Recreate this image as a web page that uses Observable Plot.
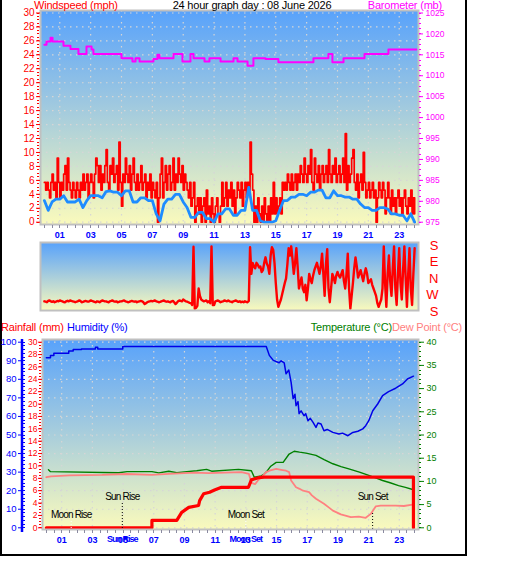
<!DOCTYPE html>
<html><head><meta charset="utf-8">
<script src="https://cdn.jsdelivr.net/npm/d3@7"></script>
<script src="https://cdn.jsdelivr.net/npm/@observablehq/plot@0.6"></script>
<style>
body{margin:0;background:#fff;}
#chart{position:relative;width:529px;height:563px;overflow:hidden;background:#fff;font-family:"Liberation Sans",Arial,sans-serif}
.box{position:absolute;left:0;top:0;width:467px;height:556px;box-sizing:border-box;border:2px solid #000;border-top:none}
.t{position:absolute;font-size:11px;line-height:12px;letter-spacing:-0.2px;white-space:nowrap}
.ann text{letter-spacing:-0.8px}
.evl text{letter-spacing:-1px}
</style></head>
<body><div id="chart">
<div class="box"></div>
</div>
<script>
// ---------- data ----------
const hourTicks = [1,3,5,7,9,11,13,15,17,19,21,23];
// wind gust (mph), every 5 min from 00:00
const gust = [
 5.7,4.6,5.7,4.6,3.5,5.7,6.9,4.6,5.7,3.5,9.2,5.7,
 3.5,5.7,4.6,6.9,8.1,4.6,9.2,5.7,4.6,3.5,5.7,4.6,
 3.5,5.7,4.6,3.5,5.7,4.6,6.9,4.6,5.7,6.9,3.5,5.7,
 6.9,5.7,3.5,6.9,9.2,8.1,5.7,8.1,4.6,6.9,5.7,8.1,
 10.4,5.7,4.6,8.1,6.9,9.2,5.7,6.9,8.1,4.6,11.5,5.7,
 2.3,6.9,5.7,9.2,6.9,5.7,8.1,4.6,6.9,9.2,5.7,4.6,
 6.9,4.6,5.7,8.1,4.6,5.7,6.9,3.5,5.7,4.6,6.9,3.5,
 5.7,4.6,3.5,5.7,0.0,3.5,6.9,9.2,3.5,5.7,8.1,4.6,
 6.9,8.1,4.6,5.7,9.2,4.6,6.9,5.7,9.2,6.9,5.7,8.1,
 4.6,6.9,5.7,4.6,3.5,5.7,2.3,3.5,5.7,0.0,2.3,3.5,
 1.2,3.5,0.0,2.3,3.5,0.0,4.6,1.2,2.3,0.0,3.5,1.2,
 0.0,2.3,3.5,1.2,0.0,2.3,5.7,2.3,3.5,5.7,2.3,4.6,
 3.5,5.7,2.3,4.6,1.2,3.5,5.7,4.6,3.5,5.7,2.3,4.6,
 5.7,3.5,5.7,4.6,11.5,6.9,4.6,0.0,2.3,0.0,3.5,1.2,
 0.0,2.3,0.0,3.5,1.2,0.0,2.3,0.0,3.5,1.2,5.7,1.2,
 3.5,1.2,2.3,3.5,1.2,5.7,4.6,5.7,4.6,6.9,5.7,4.6,
 6.9,4.6,5.7,6.9,4.6,6.9,5.7,8.1,6.9,5.7,9.2,6.9,
 5.7,8.1,6.9,10.4,5.7,4.6,9.2,6.9,5.7,8.1,4.6,6.9,
 8.1,5.7,6.9,8.1,5.7,10.4,6.9,5.7,8.1,6.9,9.2,5.7,
 6.9,8.1,5.7,6.9,9.2,5.7,12.7,4.6,8.1,5.7,6.9,9.2,
 10.4,5.7,4.6,6.9,3.5,5.7,6.9,4.6,10.0,5.7,3.5,4.6,
 5.7,3.5,4.6,5.7,3.5,4.6,0.0,3.5,5.7,4.6,3.5,5.7,
 4.6,1.2,3.5,5.7,3.5,1.2,4.6,2.3,3.5,1.2,3.5,4.6,
 2.3,3.5,1.2,3.5,4.6,2.3,1.2,3.5,2.3,4.6,1.2,3.5,
 1.2];
// average wind speed (mph), every 15 min from 00:00
const avgWind = [
 3.1,1.7,2.9,3.3, 3.3,3.8,2.9,2.9, 2.9,3.3,2.1,3.1, 3.8,3.8,3.8,3.5, 4.4,4.5,4.3,4.3, 3.8,4.5,4.5,2.9,
 2.9,3.5,3.5,3.1, 3.1,1.2,0.2,2.6, 3.3,3.3,4.0,4.0, 2.9,2.1,0.7,0.7, 1.4,1.4,0.5,0.5, 0.0,1.2,1.2,1.9,
 1.9,1.0,1.0,1.7, 1.7,5.0,1.7,1.7, 0.2,0.0,0.0,0.0, 0.2,1.7,3.1,3.1, 3.6,3.6,4.0,4.0, 3.8,4.3,4.3,4.6,
 4.6,3.5,3.5,4.5, 3.8,3.8,3.6,3.6, 3.3,3.3,2.6,2.1, 2.1,1.7,1.7,2.1, 2.1,1.9,1.2,1.2, 1.0,1.0,0.2,1.2, 0.0];
// barometer (mb), change times (h) and values
const baroTimes = [0,0.14,0.4,0.53,1.24,1.69,2.21,2.73,3.06,3.18,5.0,5.71,5.91,6.17,7.07,7.33,7.46,8.37,8.95,9.47,9.67,10.38,10.7,11.42,12.26,12.52,13.17,13.55,14.33,15.17,17.44,18.41,18.67,19.39,20.75,22.3,24.12];
const baroValues = [1017.4,1018.2,1019.1,1018.2,1017.2,1016.4,1015.2,1017.0,1016.3,1015.2,1014.2,1013.4,1014.2,1013.4,1014.0,1015.0,1014.2,1015.2,1013.4,1015.2,1014.2,1013.4,1014.2,1013.4,1014.2,1013.4,1012.4,1014.2,1014.0,1013.2,1014.2,1015.2,1013.2,1014.2,1015.2,1016.3,1016.3];
// wind direction, every 5 min (0 = S bottom, 90 = W, 180 = N, 270 = E, 360 = S top)
const windDir = [
 50,48,45,52,55,50,47,50,45,48,52,50,
 55,52,50,46,45,50,53,50,55,52,50,48,
 45,48,50,55,52,45,47,50,52,50,48,50,
 55,52,50,47,45,50,48,45,50,55,52,50,
 50,47,45,50,52,55,50,48,50,45,47,50,
 50,53,55,50,48,45,47,50,52,50,48,50,
 45,48,50,52,50,45,35,40,45,48,50,52,
 50,52,55,50,48,45,47,50,52,55,50,48,
 50,47,45,50,52,45,35,42,50,55,52,50,
 60,55,50,48,45,42,40,30,348,10,15,25,
 120,80,60,55,50,52,55,45,50,40,350,30,
 30,50,52,55,50,45,48,50,55,52,50,55,
 50,48,45,50,52,55,50,47,50,45,48,45,
 50,47,45,52,345,200,260,240,230,260,250,235,
 240,210,220,260,290,256,240,200,300,345,330,260,
 150,60,20,40,60,90,120,150,175,250,340,300,
 350,280,200,260,340,240,120,150,180,120,100,140,
 55,120,200,170,150,190,220,240,260,230,200,240,
 310,200,80,250,335,120,45,120,200,180,150,190,
 210,190,180,200,220,160,120,200,310,120,10,80,
 150,230,290,240,180,200,220,190,160,200,230,200,
 150,160,170,140,120,100,80,40,20,40,60,120,
 350,150,20,200,300,160,80,230,350,120,30,200,
 340,150,60,220,350,180,20,200,340,120,30,200,
 340];
const dirTicks = [360,270,180,90,0];
const dirLabels = ["S","E","N","W","S"];
// rainfall (mm)
const rainTimes = [0,6.88,6.88,8.5,8.82,9.28,9.92,9.99,10.25,10.64,10.96,11.42,13.17,13.36,13.81,14.2,23.92,23.92];
const rainValues = [0,0,1.2,1.2,2.5,3.3,3.6,4.4,5.5,5.75,6.1,6.55,6.55,7.75,8.1,8.2,8.2,0];
// humidity (%)
const humTimes = [0,0.27,0.27,0.49,0.49,1.46,1.46,1.75,1.75,2.29,2.29,3.2,3.2,3.35,3.35,4.98,4.98,14.33,14.53,14.79,15.17,15.3,15.5,15.62,15.8,15.95,16.08,16.2,16.27,16.4,16.47,16.6,16.79,16.9,17.05,17.2,17.38,17.57,17.7,17.9,18.09,18.3,18.67,19.06,19.3,19.65,19.97,20.3,20.62,20.81,21.01,21.27,21.59,21.91,22.3,22.76,23.21,23.53,23.92];
const humValues = [91.6,91.6,92.8,92.8,94.1,94.1,95.2,95.2,96.1,96.1,96.4,96.4,97.3,97.3,96.4,96.4,97.7,97.7,92.9,90.2,88.9,90,88.9,83,85,78.4,69.6,72,65.8,68,61.5,63,60.4,61.5,57.7,59,56.8,54.1,56.5,55.9,52.3,53,51.4,50.5,51,49.6,51.4,52,53.3,55,57.7,63.1,66.7,71.2,73.4,75.2,77.5,80.2,81.7];
// temperature (°C)
const tempTimes = [0.14,0.27,4.72,5.26,6.88,7.33,7.98,8.5,9.8,10.44,10.77,12.52,13.36,13.55,14.0,14.2,14.33,14.6,14.98,15.43,15.82,16.15,16.5,16.92,17.57,18.1,18.67,19.2,19.71,20.4,21.01,21.5,21.91,22.4,22.95,23.4,23.92];
const tempValues = [12.5,12.1,11.85,12.1,12.1,11.85,12.2,11.9,12.3,12.6,12.2,12.6,12.3,10.9,11.2,11.6,12.0,13.2,14.1,14.1,15.9,16.5,16.3,16.1,15.6,14.7,13.8,13.2,12.7,12.0,11.3,10.7,10.2,9.7,9.1,8.7,8.2];
// dew point (°C)
const dewTimes = [0.0,0.3,1.5,3.64,5.26,6.88,7.98,9.67,10.57,12.71,13.2,13.36,13.6,13.81,14.1,14.33,14.53,14.98,15.3,15.62,15.82,15.95,16.27,16.5,16.73,17.12,17.3,17.57,18.09,18.4,18.67,19.19,19.84,20.36,20.81,21.14,21.46,21.78,22.76,23.3,23.86];
const dewValues = [10.9,11.1,11.3,11.4,11.6,11.4,11.6,11.9,11.8,12.0,11.6,9.7,9.4,10.3,11.2,12.0,12.3,12.7,12.5,12.3,12.0,10.2,8.75,8.4,8.0,7.7,7.0,6.25,5.2,4.4,3.7,2.9,2.3,2.4,2.15,3.0,4.6,4.8,4.8,4.7,5.0];
// sun / moon events (h)
const eventTimes = {sunRise: 4.95, sunSet: 21.26, moonRise: 1.62, moonSet: 13.0};

// ---------- helpers ----------
const FONT = '"Liberation Sans",Arial,sans-serif';
const RED="#ff0000", MAG="#ff00ff", BLUE="#0000ff", WBLUE="#1e8cff", GREEN="#008000", PINK="#ff8080", GRAY="#c0c0c0";
const W = 466;
const xDom = [-0.25, 24.25];
const st = {background:"transparent", fontFamily: FONT, overflow:"visible"};
const gridOpt = {stroke:"#d6d6d6", strokeOpacity:1, strokeDasharray:"1.5,4.5", strokeWidth:1.2};
const series = (ts, vs) => ts.map((t,i) => ({t, v: vs[i]}));
const regular = (vs, step) => vs.map((v,i) => ({t: i*step, v}));

function gradient(id){
  return () => {
    const defs = d3.create("svg:defs");
    const g = defs.append("linearGradient").attr("id", id).attr("x1",0).attr("y1",0).attr("x2",0).attr("y2",1);
    g.append("stop").attr("offset","0").attr("stop-color","#58a2fb");
    g.append("stop").attr("offset","1").attr("stop-color","#fafabc");
    return defs.node();
  };
}
function minorY(vals, fx, len, color){
  return (index, scales, values, dims) => {
    const g = d3.create("svg:g").attr("stroke", color).attr("stroke-width", 1);
    const x0 = fx(dims);
    for (const v of vals){ const y = Math.round(scales.y(v)) + 0.5; g.append("line").attr("x1", x0).attr("x2", x0 + len).attr("y1", y).attr("y2", y); }
    return g.node();
  };
}
function minorX(vals, len, color){
  return (index, scales, values, dims) => {
    const g = d3.create("svg:g").attr("stroke", color).attr("stroke-width", 1);
    const y0 = dims.height - dims.marginBottom + 1;
    for (const v of vals){ const x = Math.round(scales.x(v)) + 0.5; g.append("line").attr("x1", x).attr("x2", x).attr("y1", y0).attr("y2", y0 + len); }
    return g.node();
  };
}
function vLine(fx, color, w){
  return (index, scales, values, dims) => d3.create("svg:line")
    .attr("x1", fx(dims)).attr("x2", fx(dims)).attr("y1", dims.marginTop).attr("y2", dims.height - dims.marginBottom + 3)
    .attr("stroke", color).attr("stroke-width", w).node();
}
const halfHours = d3.range(0, 24.01, 0.5);

// ---------- panel 1 : wind speed + barometer ----------
const baroY = b => (b - 975) * 0.6;
const p1 = Plot.plot({
  width: W, height: 245, marginTop: 10, marginBottom: 21, marginLeft: 40, marginRight: 48,
  style: st,
  x: {domain: xDom},
  y: {domain: [0, 30], insetTop: 2.5, insetBottom: 2.3},
  marks: [
    gradient("bg1"),
    Plot.frame({fill: "url(#bg1)"}),
    Plot.gridX(hourTicks, gridOpt),
    Plot.gridY(d3.range(0, 31, 2), gridOpt),
    Plot.line(series(baroTimes, baroValues), {x: "t", y: d => baroY(d.v), curve: "step-after", stroke: MAG, strokeWidth: 2}),
    Plot.line(regular(gust, 1/12), {x: "t", y: "v", curve: "step-after", stroke: RED, strokeWidth: 1.7}),
    Plot.line(regular(avgWind, 0.25), {x: "t", y: "v", stroke: WBLUE, strokeWidth: 2.8}),
    Plot.frame({stroke: GRAY, strokeWidth: 2}),
    minorY(d3.range(0, 30.01, 0.5), d => d.marginLeft - 3, 2, RED),
    Plot.axisY(d3.range(0, 31, 2), {anchor: "left", tickSize: 4, tickPadding: 2, color: RED, fontSize: 10, label: null}),
    minorY(d3.range(975, 1025.01, 1.25).map(baroY), d => d.width - d.marginRight + 1, 2, MAG),
    Plot.axisY(d3.range(975, 1026, 5).map(baroY), {anchor: "right", tickSize: 4, tickPadding: 3, color: MAG, fontSize: 8.5, label: null,
      tickFormat: d => String(Math.round(975 + d / 0.6))}),
    minorX(halfHours, 3, "#8a8aa0"),
    Plot.axisX(hourTicks, {anchor: "bottom", tickSize: 0, tickPadding: 7, color: BLUE, fontSize: 9, fontWeight: "bold", label: null,
      tickFormat: d3.format("02d")})
  ]
});

// ---------- panel 2 : wind direction ----------
const p2 = Plot.plot({
  width: W, height: 80, marginTop: 4, marginBottom: 8, marginLeft: 40, marginRight: 48,
  style: st,
  x: {domain: xDom, axis: null},
  y: {domain: [0, 360], insetTop: 2, axis: null},
  marks: [
    gradient("bg2"),
    Plot.frame({fill: "url(#bg2)"}),
    Plot.line(regular(windDir, 1/12), {x: "t", y: "v", stroke: RED, strokeWidth: 2.4}),
    Plot.frame({stroke: GRAY, strokeWidth: 2}),
    Plot.text(dirTicks, {y: d => d, text: (d, i) => dirLabels[i], frameAnchor: "right", dx: 20, dy: 1, fill: RED, fontSize: 13})
  ]
});

// ---------- panel 3 : rain, humidity, temperature, dew point ----------
const rainY = r => r * 100 / 30;
const tempY = c => c * 2.5;
const p3 = Plot.plot({
  width: W, height: 224, marginTop: 9, marginBottom: 25, marginLeft: 42, marginRight: 48,
  style: st,
  x: {domain: xDom},
  y: {domain: [0, 100], insetTop: 2.7, insetBottom: 1.7},
  marks: [
    gradient("bg3"),
    Plot.frame({fill: "url(#bg3)"}),
    Plot.gridX(hourTicks, gridOpt),
    Plot.gridY(d3.range(0, 101, 10), gridOpt),
    Plot.line(series(humTimes, humValues), {x: "t", y: "v", stroke: "#0000e8", strokeWidth: 1.5}),
    Plot.line(series(tempTimes, tempValues), {x: "t", y: d => tempY(d.v), stroke: GREEN, strokeWidth: 1.4}),
    Plot.line(series(dewTimes, dewValues), {x: "t", y: d => tempY(d.v), stroke: PINK, strokeWidth: 1.8}),
    Plot.line(series(rainTimes, rainValues), {x: "t", y: d => rainY(d.v), stroke: RED, strokeWidth: 3.2}),
    Plot.ruleX([eventTimes.sunRise], {x: d => d, stroke: "#000", strokeDasharray: "1,2", insetTop: 164}),
    Plot.ruleX([eventTimes.sunSet], {x: d => d, stroke: "#000", strokeDasharray: "1,2", insetTop: 174}),
    Plot.ruleX([eventTimes.moonRise, eventTimes.moonSet], {x: d => d, stroke: "#fff", strokeDasharray: "1,2", insetTop: 182}),
    Plot.text([eventTimes.sunRise], {x: d => d, text: () => "Sun Rise", frameAnchor: "bottom", dy: -30, fill: "#000", fontSize: 10, className: "ann"}),
    Plot.text([eventTimes.sunSet], {x: d => d, text: () => "Sun Set", frameAnchor: "bottom", dy: -30, fill: "#000", fontSize: 10, className: "ann"}),
    Plot.text([eventTimes.moonRise], {x: d => d, text: () => "Moon Rise", frameAnchor: "bottom", dy: -12, fill: "#000", fontSize: 10, className: "ann"}),
    Plot.text([eventTimes.moonSet], {x: d => d, text: () => "Moon Set", frameAnchor: "bottom", dy: -12, fill: "#000", fontSize: 10, className: "ann"}),
    Plot.frame({stroke: GRAY, strokeWidth: 2}),
    // rainfall axis
    minorY(d3.range(0, 30.01, 0.5).map(rainY), d => d.marginLeft - 3, 2, RED),
    Plot.axisY(d3.range(0, 31, 2).map(rainY), {anchor: "left", tickSize: 4, tickPadding: 1, color: RED, fontSize: 8.5, label: null,
      tickFormat: d => String(Math.round(d * 0.3))}),
    // humidity axis
    vLine(d => d.marginLeft - 20, BLUE, 2.5),
    minorY(d3.range(0, 100.01, 2), d => d.marginLeft - 19, 2, BLUE),
    Plot.axisY(d3.range(0, 101, 10), {anchor: "left", dx: -21, tickSize: 3, tickPadding: 2, color: BLUE, fontSize: 9.5, label: null}),
    // temperature axis
    minorY(d3.range(0, 40.01, 1).map(tempY), d => d.width - d.marginRight + 1, 2, GREEN),
    Plot.axisY(d3.range(0, 41, 5).map(tempY), {anchor: "right", tickSize: 5, tickPadding: 3, color: GREEN, fontSize: 9, label: null,
      tickFormat: d => String(Math.round(d / 2.5))}),
    // time axis
    minorX(halfHours, 3, "#8a8aa0"),
    Plot.axisX(hourTicks, {anchor: "bottom", tickSize: 0, tickPadding: 7, color: BLUE, fontSize: 9, fontWeight: "bold", label: null,
      tickFormat: d3.format("02d")}),
    Plot.text([eventTimes.sunRise], {x: d => d, text: () => "Sun Rise", frameAnchor: "bottom", dy: 12, fill: BLUE, fontSize: 9, fontWeight: "bold", className: "evl"}),
    Plot.text([eventTimes.moonSet], {x: d => d, text: () => "Moon Set", frameAnchor: "bottom", dy: 12, fill: BLUE, fontSize: 9, fontWeight: "bold", className: "evl"})
  ]
});

// ---------- layout ----------
const chart = document.getElementById("chart");
function place(el, top){ el.style.position = "absolute"; el.style.left = "0px"; el.style.top = top + "px"; chart.appendChild(el); }
place(p1, 0);
place(p2, 238);
place(p3, 330);
function label(text, color, css){
  const d = document.createElement("div");
  d.className = "t"; d.textContent = text; d.style.color = color;
  Object.assign(d.style, css);
  chart.appendChild(d);
}
label("Windspeed (mph)", RED, {left: "34px", top: "-1px"});
label("24 hour graph day : 08 June 2026", "#000", {left: "252px", top: "-1px", transform: "translateX(-50%)"});
label("Barometer (mb)", MAG, {right: "87px", top: "-1px"});
label("Rainfall (mm)", RED, {left: "1px", top: "321px"});
label("Humidity (%)", BLUE, {left: "67px", top: "321px"});
label("Temperature (°C)", GREEN, {right: "137px", top: "321px"});
label("Dew Point (°C)", PINK, {left: "392px", top: "321px"});
</script>
</body></html>
